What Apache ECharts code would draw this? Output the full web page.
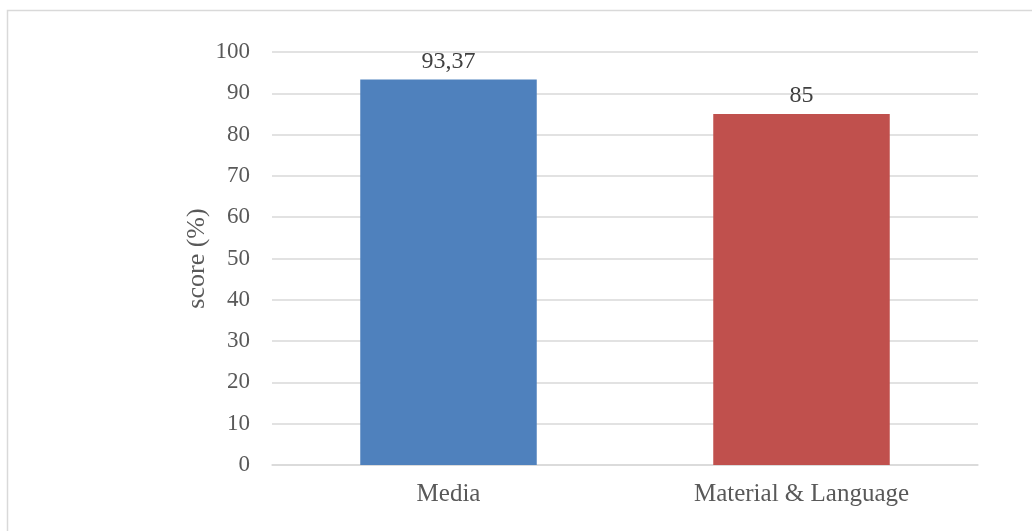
<!DOCTYPE html>
<html><head><meta charset="utf-8">
<script src="https://cdn.jsdelivr.net/npm/echarts@6/dist/echarts.min.js"></script>
<style>html,body{margin:0;padding:0;background:#fff}#c{width:1032px;height:531px}</style>
</head><body><div id="c"></div>
<script>
const categories = ['Media', 'Material & Language'];
const scores = [93.37, 85];
const labels = ['93,37', '85'];
const colors = ['#4F81BD', '#C0504D'];
const yTicks = [0, 10, 20, 30, 40, 50, 60, 70, 80, 90, 100];

const font = '"Liberation Serif", "Times New Roman", serif';
const chart = echarts.init(document.getElementById('c'), null, {renderer: 'canvas'});
chart.setOption({
  animation: false,
  graphic: [{
    type: 'rect', shape: {x: 7.5, y: 10.5, width: 1100, height: 600},
    style: {fill: 'none', stroke: '#d9d9d9', lineWidth: 1.5}, z: -1
  }],
  grid: {left: 272, right: 54, top: 52, bottom: 66},
  xAxis: {
    type: 'category', data: categories,
    axisLine: {show: true, lineStyle: {color: '#d9d9d9', width: 1.5}},
    axisTick: {show: false},
    axisLabel: {color: '#595959', fontFamily: font, fontSize: 25, margin: 17}
  },
  yAxis: {
    type: 'value', min: yTicks[0], max: yTicks[yTicks.length - 1], interval: 10,
    name: 'score (%)', nameLocation: 'middle', nameGap: 62, nameMoveOverlap: false,
    nameTextStyle: {color: '#595959', fontFamily: font, fontSize: 26},
    axisLine: {show: false}, axisTick: {show: false},
    axisLabel: {color: '#595959', fontFamily: font, fontSize: 23, margin: 22},
    splitLine: {lineStyle: {color: '#d9d9d9', width: 1.5}}
  },
  series: [{
    type: 'bar', barWidth: '50%',
    data: scores.map((v, i) => ({value: v, itemStyle: {color: colors[i]}})),
    label: {
      show: true, position: 'top', distance: 6, color: '#404040',
      fontFamily: font, fontSize: 24,
      formatter: p => labels[p.dataIndex]
    }
  }]
});
</script></body></html>
